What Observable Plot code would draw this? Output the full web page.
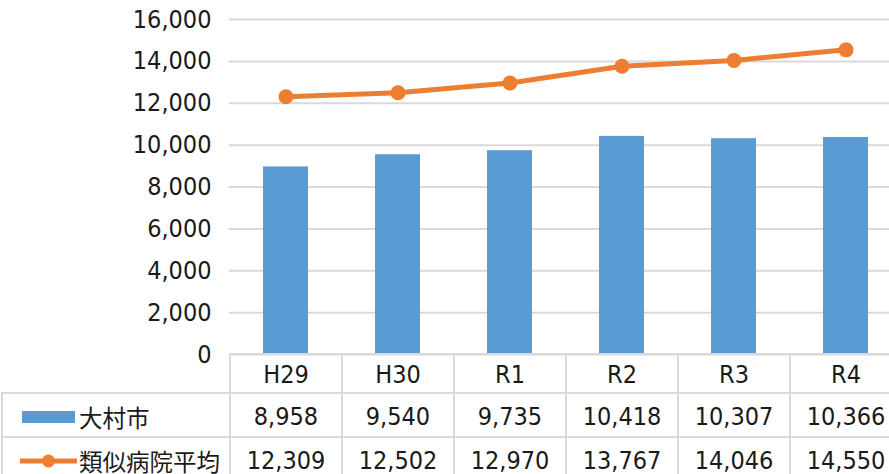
<!DOCTYPE html>
<html><head><meta charset="utf-8">
<script src="https://cdn.jsdelivr.net/npm/d3@7"></script>
<script src="https://cdn.jsdelivr.net/npm/@observablehq/plot@0.6"></script>
<style>
html,body{margin:0;padding:0;background:#fff;overflow:hidden;width:889px;height:474px;}
#wrap{position:relative;width:889px;height:474px;overflow:hidden;}
#chart{position:absolute;left:0;top:0;}
table{position:absolute;left:1px;top:353px;border-collapse:collapse;table-layout:fixed;width:901px;background:transparent;}
td{border:2px solid #d9d9d9;text-align:center;padding:0;font-size:25px;color:#1a1a1a;line-height:1;
   font-family:"Liberation Sans Narrow","DejaVu Sans Condensed","Noto Sans CJK JP",sans-serif;white-space:nowrap;}
td.lab{text-align:left;font-family:"Noto Sans CJK JP",sans-serif;font-size:23.5px;padding-left:0;}
td.lab span{display:inline-block;vertical-align:middle;line-height:1;}
td.blank{border-top:none;border-left:none;}
tr.h td{height:35px;padding-top:2px;}
tr.r td{height:40px;padding-top:2px;}
.sym{display:inline-block;vertical-align:middle;margin:0 2px 0 17px;}
</style></head>
<body><div id="wrap"><div id="chart"></div></div>
<script>
const categories = ["H29","H30","R1","R2","R3","R4"];
const omura = [8958,9540,9735,10418,10307,10366];
const similar = [12309,12502,12970,13767,14046,14550];
const seriesNames = ["大村市","類似病院平均"];
const yTicks = [0,2000,4000,6000,8000,10000,12000,14000,16000];
const colors = ["#5B9BD5","#ED7D31"];

const fmt = d3.format(",");
const barData = categories.map((c,i)=>({cat:c, value:omura[i]}));
const lineData = categories.map((c,i)=>({cat:c, value:similar[i]}));

const plot = Plot.plot({
  width: 889, height: 474,
  marginLeft: 229, marginRight: 0, marginTop: 19, marginBottom: 120,
  style: {fontFamily: '"Liberation Sans Narrow","DejaVu Sans Condensed","Noto Sans CJK JP",sans-serif', fontSize: "25px", color: "#1a1a1a", background: "#fff"},
  x: {domain: categories, range: [229, 901], paddingInner: 0.6, paddingOuter: 0.3, axis: null},
  y: {domain: [0, 16000], range: [354, 19], label: null},
  marks: [
    Plot.gridY(yTicks, {stroke: "#d9d9d9", strokeOpacity: 1, strokeWidth: 2}),
    Plot.axisY(yTicks, {tickSize: 0, tickPadding: 18, tickFormat: fmt, fontSize: 25, fill: "#1a1a1a", label: null}),
    Plot.barY(barData, {x: "cat", y: "value", fill: colors[0]}),
    Plot.line(lineData, {x: "cat", y: "value", stroke: colors[1], strokeWidth: 5}),
    Plot.dot(lineData, {x: "cat", y: "value", r: 7.5, fill: colors[1]})
  ]
});
document.getElementById("chart").appendChild(plot);

// data table below the plot area
const table = d3.select("#wrap").append("table");
const cg = table.append("colgroup");
cg.append("col").style("width","228px");
categories.forEach(()=>cg.append("col").style("width","112px"));
const h = table.append("tr").attr("class","h");
h.append("td").attr("class","blank");
categories.forEach(c=>h.append("td").text(c));
const rows = [omura, similar];
rows.forEach((vals,k)=>{
  const tr = table.append("tr").attr("class","r");
  const lab = tr.append("td").attr("class","lab");
  const s = lab.append("svg").attr("class","sym").attr("width",57).attr("height",16);
  if (k===0) {
    s.append("rect").attr("x",2).attr("y",2).attr("width",53).attr("height",12).attr("fill",colors[0]);
  } else {
    s.append("line").attr("x1",0).attr("x2",57).attr("y1",8).attr("y2",8).attr("stroke",colors[1]).attr("stroke-width",5);
    s.append("circle").attr("cx",28.5).attr("cy",8).attr("r",6.5).attr("fill",colors[1]);
  }
  lab.append("span").text(seriesNames[k]);
  vals.forEach(v=>tr.append("td").text(fmt(v)));
});
</script></body></html>
